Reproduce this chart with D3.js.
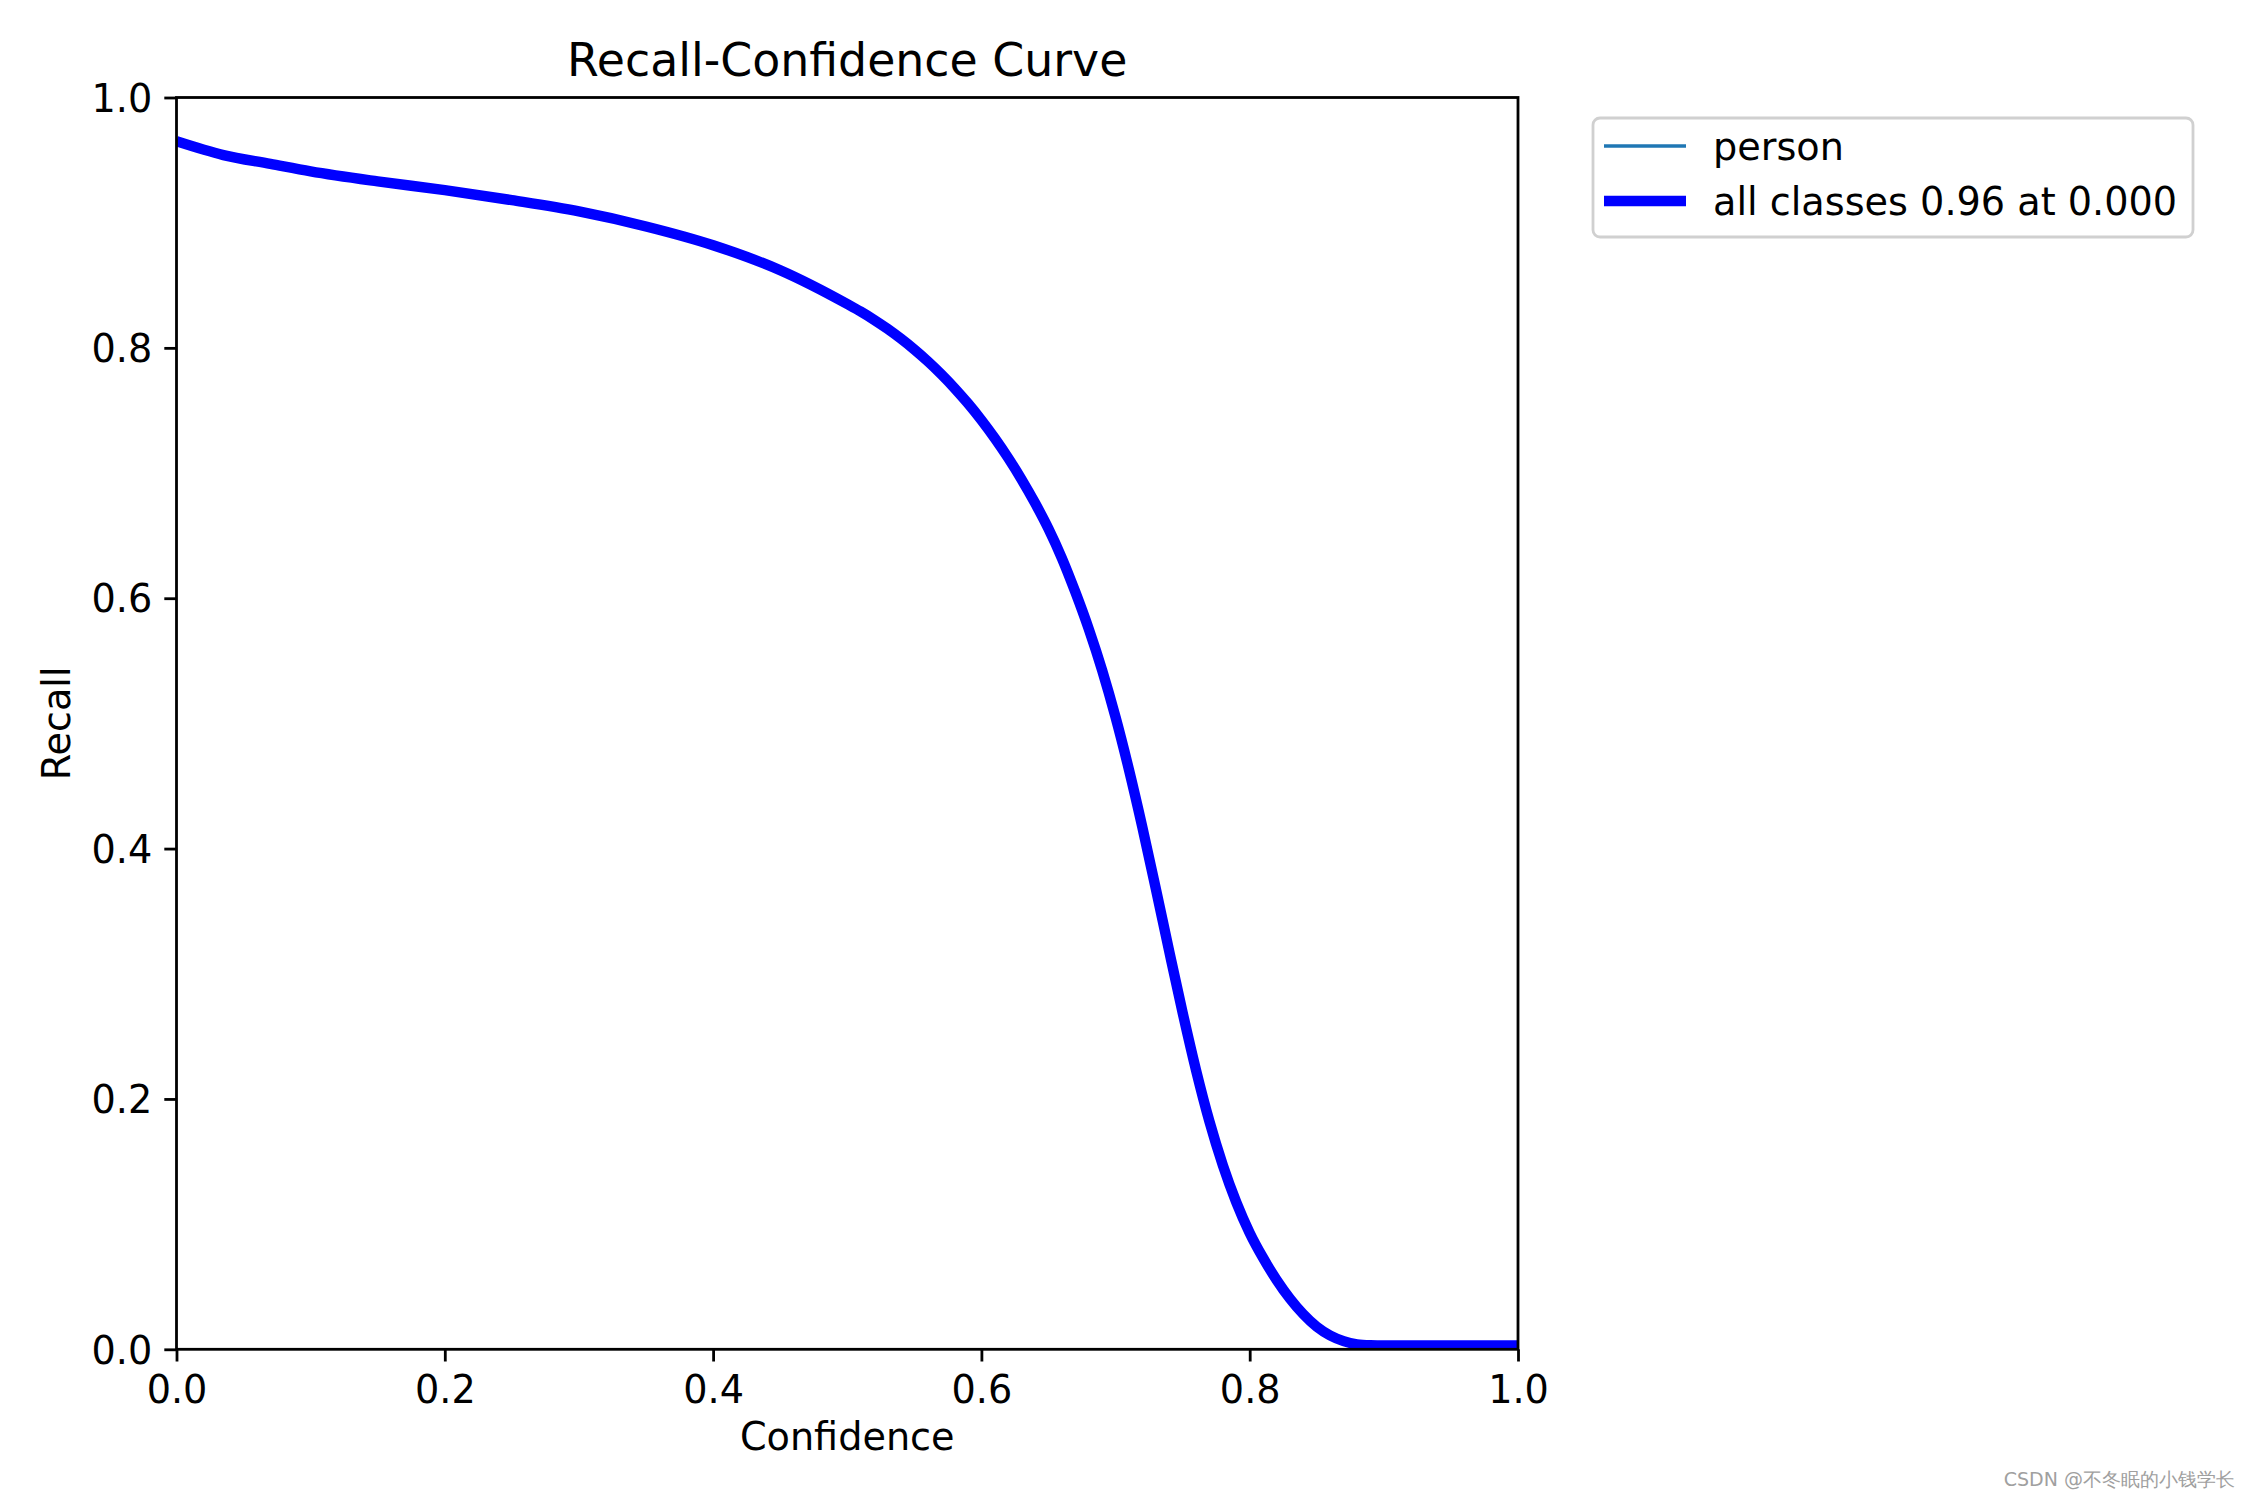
<!DOCTYPE html>
<html>
<head>
<meta charset="utf-8">
<script src="https://cdn.jsdelivr.net/npm/d3@7"></script>
<style>
  html, body { margin: 0; padding: 0; background: #fff; }
  svg { display: block; }
  text { font-family: "DejaVu Sans", sans-serif; }
</style>
</head>
<body>
<svg id="chart" width="2250" height="1500"></svg>
<script>
// ---- data ----
const confidence = [0.000, 0.035, 0.070, 0.100, 0.150, 0.200, 0.250, 0.300, 0.350, 0.400, 0.450, 0.500,
  0.510, 0.520, 0.530, 0.540, 0.550, 0.560, 0.570, 0.580, 0.590, 0.600,
  0.610, 0.620, 0.630, 0.640, 0.650, 0.660, 0.670, 0.680, 0.690, 0.700,
  0.710, 0.720, 0.730, 0.740, 0.750, 0.760, 0.770, 0.780, 0.790, 0.800,
  0.810, 0.820, 0.830, 0.840, 0.850, 0.860, 0.870, 0.880, 0.890, 0.900, 1.000];
const recallPerson = [0.965, 0.954, 0.947, 0.941, 0.933, 0.926, 0.918, 0.909, 0.897, 0.882, 0.862, 0.835,
  0.8290, 0.8224, 0.8152, 0.8073, 0.7987, 0.7893, 0.7790, 0.7678, 0.7556, 0.7423,
  0.7278, 0.7120, 0.6948, 0.6760, 0.6555, 0.6320, 0.6050, 0.5755, 0.5425, 0.5050,
  0.4630, 0.4170, 0.3680, 0.3180, 0.2690, 0.2230, 0.1820, 0.1470, 0.1175, 0.0930,
  0.0730, 0.0555, 0.0405, 0.0280, 0.0180, 0.0110, 0.0065, 0.0040, 0.0032, 0.0030, 0.0030];
const recallAll = recallPerson.slice();
const xTicks = [0.0, 0.2, 0.4, 0.6, 0.8, 1.0];
const yTicks = [0.0, 0.2, 0.4, 0.6, 0.8, 1.0];
const legendLabels = ["person", "all classes 0.96 at 0.000"];
const titleText = "Recall-Confidence Curve";
const xLabel = "Confidence";
const yLabel = "Recall";
const watermark = "CSDN @不冬眠的小钱学长";

// ---- layout ----
const svg = d3.select("#chart");
const L = 176.5, R = 1518, T = 97.5, B = 1349.3;
const x = d3.scaleLinear().domain([0, 1]).range([L, R]);
const y = d3.scaleLinear().domain([0, 1]).range([B, T]);
const fs = 38.2;

svg.append("defs").append("clipPath").attr("id", "clip")
  .append("rect").attr("x", L).attr("y", T).attr("width", R - L).attr("height", B - T);

const line = d3.line().x(d => x(d[0])).y(d => y(d[1])).curve(d3.curveMonotoneX);
const g = svg.append("g").attr("clip-path", "url(#clip)");
g.append("path").datum(confidence.map((c, i) => [c, recallPerson[i]]))
  .attr("d", line).attr("fill", "none").attr("stroke", "#1f77b4").attr("stroke-width", 3.5);
g.append("path").datum(confidence.map((c, i) => [c, recallAll[i]]))
  .attr("d", line).attr("fill", "none").attr("stroke", "#0000ff").attr("stroke-width", 10.4)
  .attr("stroke-linejoin", "round");

// axes
const xAxis = svg.append("g").attr("transform", `translate(0,${B})`)
  .call(d3.axisBottom(x).tickValues(xTicks).tickFormat(d3.format(".1f")).tickSize(12.2).tickPadding(12).tickSizeOuter(0));
const yAxis = svg.append("g").attr("transform", `translate(${L},0)`)
  .call(d3.axisLeft(y).tickValues(yTicks).tickFormat(d3.format(".1f")).tickSize(12.2).tickPadding(12).tickSizeOuter(0));
[xAxis, yAxis].forEach(a => {
  a.select(".domain").remove();
  a.selectAll(".tick line").attr("stroke", "#000").attr("stroke-width", 2.8);
  a.selectAll(".tick text").attr("font-size", fs).attr("fill", "#000").attr("font-family", "DejaVu Sans");
});
yAxis.selectAll(".tick text").attr("dy", "0.36em");
xAxis.selectAll(".tick text").attr("dy", "0.76em");

// frame
svg.append("rect").attr("x", L).attr("y", T).attr("width", R - L).attr("height", B - T)
  .attr("fill", "none").attr("stroke", "#000").attr("stroke-width", 2.8);

// title & labels
svg.append("text").attr("x", (L + R) / 2).attr("y", 76).attr("text-anchor", "middle")
  .attr("font-size", 45.8).text(titleText);
svg.append("text").attr("x", (L + R) / 2).attr("y", 1450).attr("text-anchor", "middle")
  .attr("font-size", fs).text(xLabel);
svg.append("text").attr("transform", `translate(70,${(T + B) / 2}) rotate(-90)`).attr("text-anchor", "middle")
  .attr("font-size", fs).text(yLabel);

// legend
const lg = svg.append("g");
lg.append("rect").attr("x", 1593).attr("y", 118).attr("width", 600).attr("height", 119)
  .attr("rx", 7).attr("fill", "#fff").attr("stroke", "#d0d0d0").attr("stroke-width", 2.8);
const legendStyles = [{c: "#1f77b4", w: 3.5}, {c: "#0000ff", w: 10.4}];
legendLabels.forEach((lab, i) => {
  const yy = 146 + i * 55;
  lg.append("line").attr("x1", 1604).attr("x2", 1686).attr("y1", yy).attr("y2", yy)
    .attr("stroke", legendStyles[i].c).attr("stroke-width", legendStyles[i].w);
  lg.append("text").attr("x", 1713).attr("y", yy).attr("dy", "0.36em").attr("font-size", fs).text(lab);
});

// watermark
svg.append("text").attr("x", 2235).attr("y", 1486).attr("text-anchor", "end")
  .attr("font-size", 19).attr("fill", "#a0a0a0")
  .attr("font-family", "'Liberation Sans', 'Noto Sans CJK SC', sans-serif").text(watermark);
</script>
</body>
</html>
